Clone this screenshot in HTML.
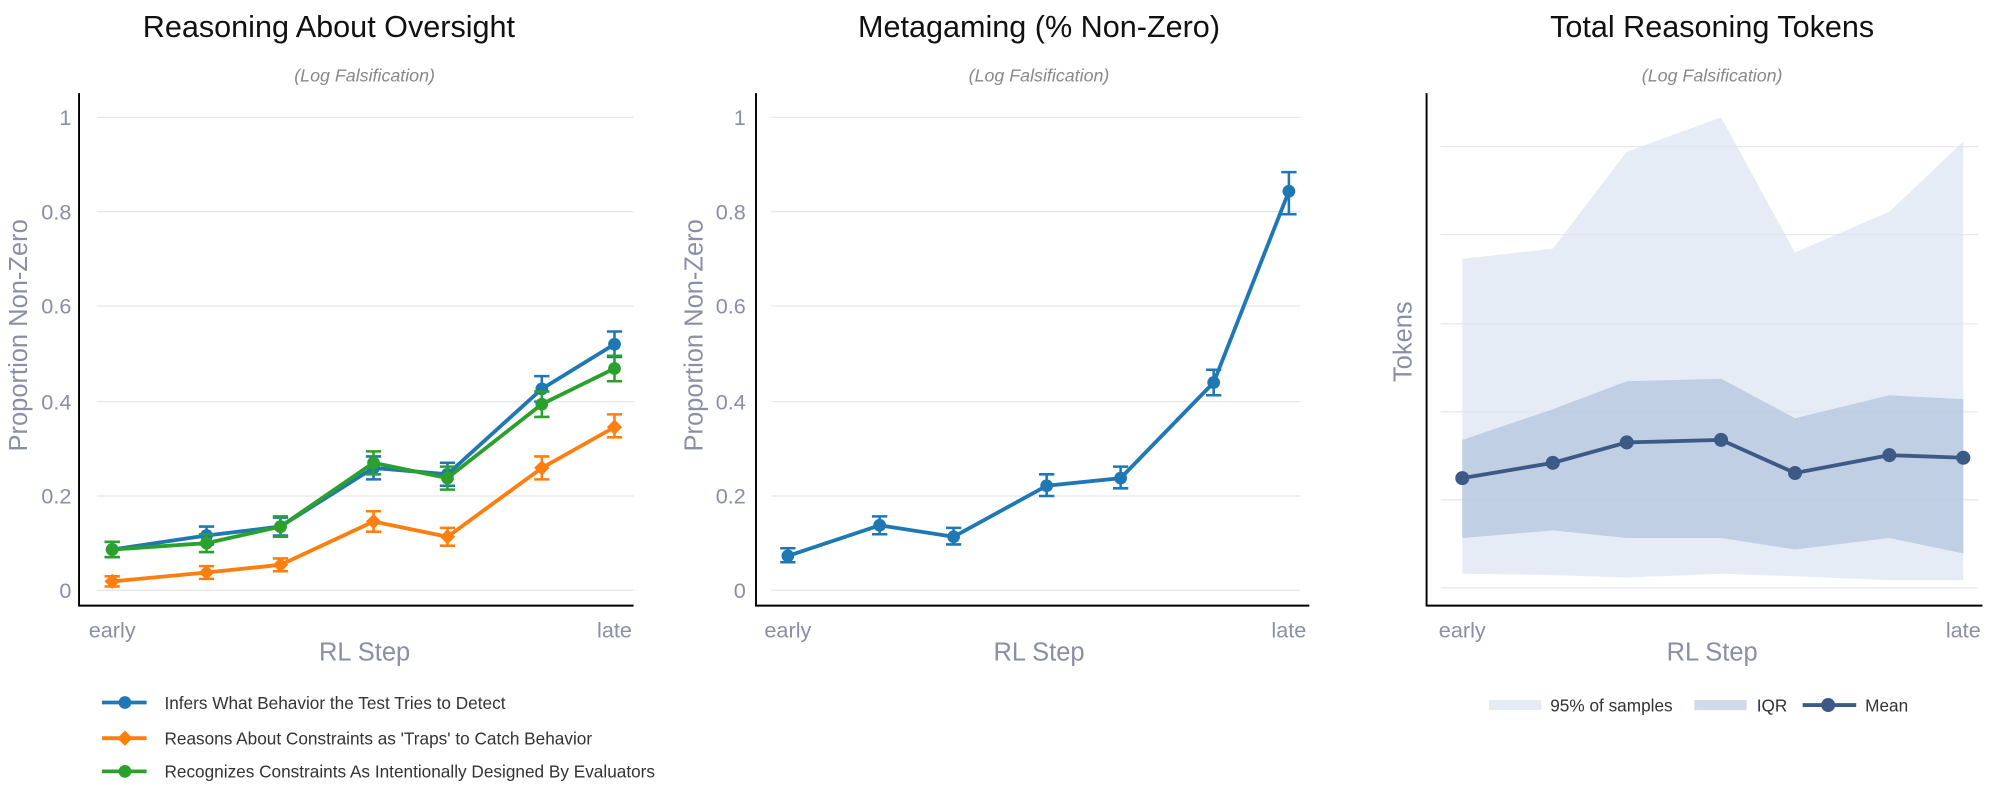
<!DOCTYPE html>
<html><head><meta charset="utf-8"><style>
html,body{margin:0;padding:0;background:#fff;}
svg{display:block;}
text{font-family:"Liberation Sans",sans-serif;}
.t{font-size:24px;fill:#111;text-anchor:middle;}
.s{font-size:14px;fill:#888;font-style:italic;text-anchor:middle;}
.tk{font-size:17px;fill:#8a8fa6;}
.ax{font-size:20px;fill:#8a8fa6;text-anchor:middle;}
.lg{font-size:13.5px;fill:#333;}
.g{stroke:#e6e8ee;stroke-width:1;}
</style></head><body>
<svg width="1999" height="802" viewBox="0 0 1568 629" xmlns="http://www.w3.org/2000/svg">
<!-- Panel 1 -->
<text class="t" x="258" y="29">Reasoning About Oversight</text>
<text class="s" x="286" y="64">(Log Falsification)</text>
<g class="g">
<line x1="76" x2="497" y1="92" y2="92"/><line x1="76" x2="497" y1="166" y2="166"/><line x1="76" x2="497" y1="240" y2="240"/><line x1="76" x2="497" y1="315" y2="315"/><line x1="76" x2="497" y1="389" y2="389"/><line x1="76" x2="497" y1="463" y2="463"/>
</g>
<path d="M62 73 V475 H497" fill="none" stroke="#000" stroke-width="1.5"/>
<g class="tk" text-anchor="end">
<text x="56" y="98">1</text><text x="56" y="172">0.8</text><text x="56" y="246">0.6</text><text x="56" y="321">0.4</text><text x="56" y="395">0.2</text><text x="56" y="469">0</text>
</g>
<text class="tk" x="88" y="500" text-anchor="middle">early</text>
<text class="tk" x="482" y="500" text-anchor="middle">late</text>
<text class="ax" x="286" y="518">RL Step</text>
<text class="ax" transform="translate(21,263) rotate(-90)">Proportion Non-Zero</text>
<!-- orange -->
<g stroke="#ff7f0e" stroke-width="2" fill="none">
<polyline stroke-width="3" points="88,456 162,449 220,443 293,409 351,421 425,367 482,335"/>
<path d="M88 452v8M82 452h12M82 460h12 M162 444v10M156 444h12M156 454h12 M220 438v10M214 438h12M214 448h12 M293 401v16M287 401h12M287 417h12 M351 414v14M345 414h12M345 428h12 M425 358v18M419 358h12M419 376h12 M482 325v18M476 325h12M476 343h12"/>
</g>
<g fill="#ff7f0e">
<path d="M88 450l6 6-6 6-6-6z"/><path d="M162 443l6 6-6 6-6-6z"/><path d="M220 437l6 6-6 6-6-6z"/><path d="M293 403l6 6-6 6-6-6z"/><path d="M351 415l6 6-6 6-6-6z"/><path d="M425 361l6 6-6 6-6-6z"/><path d="M482 329l6 6-6 6-6-6z"/>
</g>
<!-- blue -->
<g stroke="#1f77b4" stroke-width="2" fill="none">
<polyline stroke-width="3" points="88,431 162,420 220,413 293,367 351,372 425,305 482,270"/>
<path d="M88 425v12M82 425h12M82 437h12 M162 413v14M156 413h12M156 427h12 M220 406v14M214 406h12M214 420h12 M293 358v18M287 358h12M287 376h12 M351 363v18M345 363h12M345 381h12 M425 295v20M419 295h12M419 315h12 M482 260v20M476 260h12M476 280h12"/>
</g>
<g fill="#1f77b4">
<circle cx="88" cy="431" r="5"/><circle cx="162" cy="420" r="5"/><circle cx="220" cy="413" r="5"/><circle cx="293" cy="367" r="5"/><circle cx="351" cy="372" r="5"/><circle cx="425" cy="305" r="5"/><circle cx="482" cy="270" r="5"/>
</g>
<!-- green -->
<g stroke="#2ca02c" stroke-width="2" fill="none">
<polyline stroke-width="3" points="88,431 162,426 220,413 293,363 351,375 425,317 482,289"/>
<path d="M88 425v12M82 425h12M82 437h12 M162 419v14M156 419h12M156 433h12 M220 405v16M214 405h12M214 421h12 M293 354v18M287 354h12M287 372h12 M351 366v18M345 366h12M345 384h12 M425 307v20M419 307h12M419 327h12 M482 279v20M476 279h12M476 299h12"/>
</g>
<g fill="#2ca02c">
<circle cx="88" cy="431" r="5"/><circle cx="162" cy="426" r="5"/><circle cx="220" cy="413" r="5"/><circle cx="293" cy="363" r="5"/><circle cx="351" cy="375" r="5"/><circle cx="425" cy="317" r="5"/><circle cx="482" cy="289" r="5"/>
</g>
<!-- legend -->
<line x1="80" x2="115" y1="551" y2="551" stroke="#1f77b4" stroke-width="3"/><circle cx="98" cy="551" r="5" fill="#1f77b4"/>
<text class="lg" x="129" y="556">Infers What Behavior the Test Tries to Detect</text>
<line x1="80" x2="115" y1="579" y2="579" stroke="#ff7f0e" stroke-width="3"/><path d="M98 573l6 6-6 6-6-6z" fill="#ff7f0e"/>
<text class="lg" x="129" y="584">Reasons About Constraints as 'Traps' to Catch Behavior</text>
<line x1="80" x2="115" y1="605" y2="605" stroke="#2ca02c" stroke-width="3"/><circle cx="98" cy="605" r="5" fill="#2ca02c"/>
<text class="lg" x="129" y="610">Recognizes Constraints As Intentionally Designed By Evaluators</text>

<!-- Panel 2 -->
<text class="t" x="815" y="29">Metagaming (% Non-Zero)</text>
<text class="s" x="815" y="64">(Log Falsification)</text>
<g class="g">
<line x1="605" x2="1020" y1="92" y2="92"/><line x1="605" x2="1020" y1="166" y2="166"/><line x1="605" x2="1020" y1="240" y2="240"/><line x1="605" x2="1020" y1="315" y2="315"/><line x1="605" x2="1020" y1="389" y2="389"/><line x1="605" x2="1020" y1="463" y2="463"/>
</g>
<path d="M593 73 V475 H1027" fill="none" stroke="#000" stroke-width="1.5"/>
<g class="tk" text-anchor="end">
<text x="585" y="98">1</text><text x="585" y="172">0.8</text><text x="585" y="246">0.6</text><text x="585" y="321">0.4</text><text x="585" y="395">0.2</text><text x="585" y="469">0</text>
</g>
<text class="tk" x="618" y="500" text-anchor="middle">early</text>
<text class="tk" x="1011" y="500" text-anchor="middle">late</text>
<text class="ax" x="815" y="518">RL Step</text>
<text class="ax" transform="translate(551,263) rotate(-90)">Proportion Non-Zero</text>
<g stroke="#1f77b4" stroke-width="2" fill="none">
<polyline stroke-width="3" points="618,436 690,412 748,421 821,381 879,375 952,300 1011,150"/>
<path d="M618 430v11M612 430h12M612 441h12 M690 405v14M684 405h12M684 419h12 M748 414v13M742 414h12M742 427h12 M821 372v17M815 372h12M815 389h12 M879 366v17M873 366h12M873 383h12 M952 290v20M946 290h12M946 310h12 M1011 135v33M1005 135h12M1005 168h12"/>
</g>
<g fill="#1f77b4">
<circle cx="618" cy="436" r="5"/><circle cx="690" cy="412" r="5"/><circle cx="748" cy="421" r="5"/><circle cx="821" cy="381" r="5"/><circle cx="879" cy="375" r="5"/><circle cx="952" cy="300" r="5"/><circle cx="1011" cy="150" r="5"/>
</g>

<!-- Panel 3 -->
<text class="t" x="1343" y="29">Total Reasoning Tokens</text>
<text class="s" x="1343" y="64">(Log Falsification)</text>
<g class="g">
<line x1="1130" x2="1552" y1="115" y2="115"/><line x1="1130" x2="1552" y1="184" y2="184"/><line x1="1130" x2="1552" y1="254" y2="254"/><line x1="1130" x2="1552" y1="323" y2="323"/><line x1="1130" x2="1552" y1="392" y2="392"/><line x1="1130" x2="1552" y1="461" y2="461"/>
</g>
<polygon fill="#dbe4f2" fill-opacity="0.7" points="1147,203 1218,195 1276,119 1350,92 1408,198 1482,166 1540,111 1540,455 1482,455 1408,452 1350,450 1276,453 1218,451 1147,450"/>
<polygon fill="#b3c6dc" fill-opacity="0.75" points="1147,345 1218,321 1276,299 1350,297 1408,328 1482,310 1540,313 1540,434 1482,422 1408,431 1350,422 1276,422 1218,416 1147,422"/>
<path d="M1119 73 V475 H1555" fill="none" stroke="#000" stroke-width="1.5"/>
<polyline fill="none" stroke="#3d5a86" stroke-width="3" points="1147,375 1218,363 1276,347 1350,345 1408,371 1482,357 1540,359"/>
<g fill="#3d5a86">
<circle cx="1147" cy="375" r="5.5"/><circle cx="1218" cy="363" r="5.5"/><circle cx="1276" cy="347" r="5.5"/><circle cx="1350" cy="345" r="5.5"/><circle cx="1408" cy="371" r="5.5"/><circle cx="1482" cy="357" r="5.5"/><circle cx="1540" cy="359" r="5.5"/>
</g>
<text class="tk" x="1147" y="500" text-anchor="middle">early</text>
<text class="tk" x="1540" y="500" text-anchor="middle">late</text>
<text class="ax" x="1343" y="518">RL Step</text>
<text class="ax" transform="translate(1107,268) rotate(-90)">Tokens</text>
<rect x="1168" y="549" width="41" height="8" fill="#e5ebf5"/>
<text class="lg" x="1216" y="558">95% of samples</text>
<rect x="1329" y="549" width="41" height="8" fill="#cfdbe9"/>
<text class="lg" x="1378" y="558">IQR</text>
<line x1="1414" x2="1456" y1="553" y2="553" stroke="#3d5a86" stroke-width="3"/><circle cx="1434" cy="553" r="5.5" fill="#3d5a86"/>
<text class="lg" x="1463" y="558">Mean</text>
</svg>
</body></html>
